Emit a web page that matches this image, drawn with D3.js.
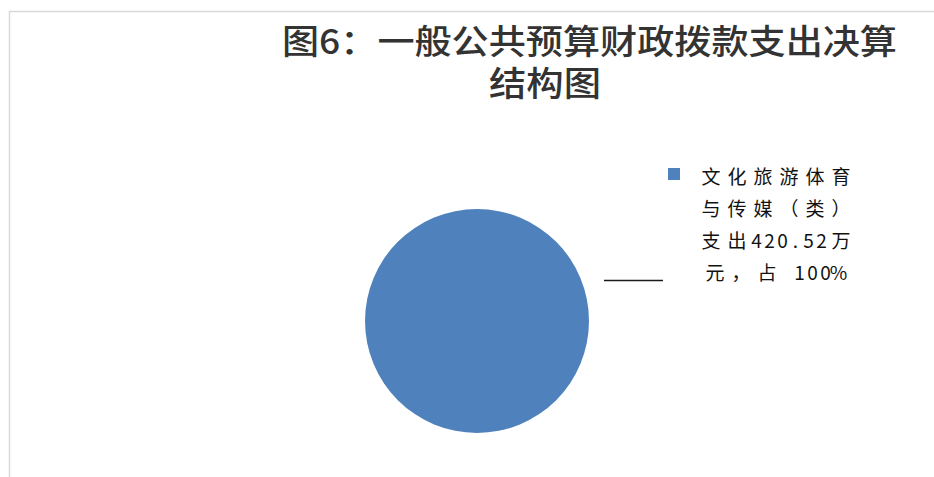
<!DOCTYPE html>
<html>
<head>
<meta charset="utf-8">
<script src="https://cdn.jsdelivr.net/npm/d3@7"></script>
<style>
  html, body { margin: 0; padding: 0; background: #fff; }
  svg { display: block; }
</style>
</head>
<body>
<script>
// chart data
const categories = ["文化旅游体育与传媒（类）"];
const values = [420.52];
const shares = ["100%"];
const titleLines = ["图6：一般公共预算财政拨款支出决算", "结构图"];

const width = 934;
const height = 477;
const cx = 477, cy = 321, radius = 112;
const blue = "#4f81bd";

const svg = d3.select("body").append("svg")
    .attr("width", width)
    .attr("height", height)
    .attr("viewBox", [0, 0, width, height]);

// chart area border (only top/left visible)
svg.append("rect")
    .attr("x", 9.5).attr("y", 11.5)
    .attr("width", width + 20).attr("height", height + 20)
    .attr("fill", "#fff")
    .attr("stroke", "#d9d9d9")
    .attr("stroke-width", 1.5);

// title, wrapped over two lines in one text element
const titleX = [282, 489];
const titleY = [54, 96];
const titleLen = [615, 112];

svg.append("text")
    .attr("font-family", "'Noto Sans CJK SC', sans-serif")
    .attr("font-weight", 500)
    .attr("fill", "#333")
    .attr("font-size", 34)
  .selectAll("tspan")
  .data(titleLines)
  .join("tspan")
    .attr("x", (d, i) => titleX[i])
    .attr("y", (d, i) => titleY[i])
    .attr("textLength", (d, i) => titleLen[i])
    .attr("lengthAdjust", "spacingAndGlyphs")
    .text(d => d);

// pie
const pie = d3.pie().sort(null).value(d => d.value);
const arc = d3.arc().innerRadius(0).outerRadius(radius);
const pieData = pie(categories.map((c, i) => ({ name: c, value: values[i] })));

svg.append("g")
    .attr("transform", `translate(${cx},${cy})`)
  .selectAll("path")
  .data(pieData)
  .join("path")
    .attr("d", arc)
    .attr("fill", blue);

// leader line from data label
svg.append("line")
    .attr("x1", 604).attr("x2", 663)
    .attr("y1", 280.5).attr("y2", 280.5)
    .attr("stroke", "#1a1a1a")
    .attr("stroke-width", 1.5);

// legend
const label = `${categories[0]}支出${values[0]}万元，占 ${shares[0]}`;
const legendLines = [label.slice(0, 6), label.slice(6, 12), label.slice(12, 21), label.slice(21)];
const lineX = [698, 698, 698, 702];

const legend = svg.append("g");
legend.append("rect")
    .attr("x", 668).attr("y", 168)
    .attr("width", 12).attr("height", 12)
    .attr("fill", blue);

// lay glyphs out on a fixed grid: wide chars 26px, narrow chars 13px
const isNarrow = ch => ch.charCodeAt(0) < 0x2000;
function cells(str, x0) {
  let x = x0;
  return Array.from(str).map(ch => {
    const w = isNarrow(ch) ? 13 : 26;
    const c = { ch, x: x + w / 2 };
    x += w;
    return c;
  }).filter(c => c.ch !== " ");
}

legend.selectAll("text")
  .data(legendLines)
  .join("text")
    .attr("y", (d, i) => 184 + i * 32)
    .attr("font-family", "'Noto Sans CJK SC', sans-serif")
    .attr("font-size", 19)
    .attr("fill", "#111")
    .attr("text-anchor", "middle")
  .selectAll("tspan")
  .data((d, i) => cells(d, lineX[i]))
  .join("tspan")
    .attr("x", c => c.x)
    .text(c => c.ch);
</script>
</body>
</html>
